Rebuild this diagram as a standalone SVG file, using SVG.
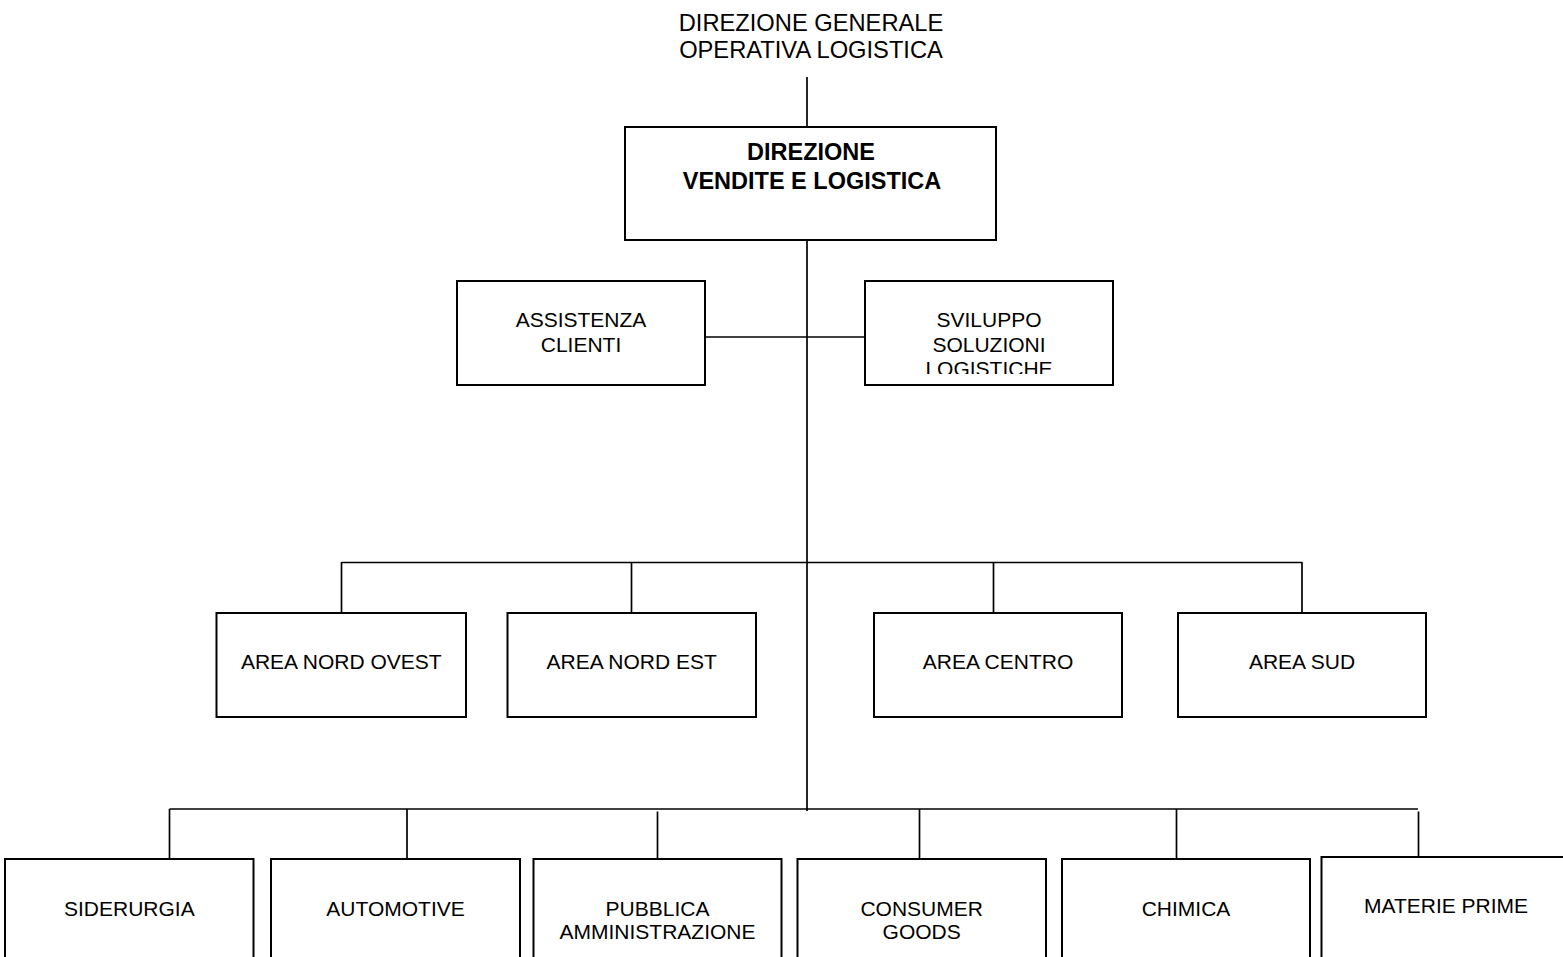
<svg xmlns="http://www.w3.org/2000/svg" width="1563" height="957" viewBox="0 0 1563 957">
<style>
.box{fill:#fff;stroke:#000;stroke-width:2}
.ln{fill:none;stroke:#000;stroke-width:1.7}
text{font-family:"Liberation Sans",Arial,sans-serif;fill:#000;text-anchor:middle}
.t{font-size:21px}
.top{font-size:23.7px}
.b{font-size:23.5px;font-weight:bold}
</style>
<defs>
<clipPath id="clipSv"><rect x="866" y="282" width="246" height="92"/></clipPath>
</defs>
<rect width="1563" height="957" fill="#fff"/>
<g id="connectors">
<line class="ln" x1="807" y1="77" x2="807" y2="127"/>
<line class="ln" x1="807" y1="240" x2="807" y2="811"/>
<line class="ln" x1="705" y1="337" x2="865" y2="337"/>
<line class="ln" x1="341.5" y1="562.5" x2="1302" y2="562.5"/>
<line class="ln" x1="341.5" y1="562" x2="341.5" y2="613"/>
<line class="ln" x1="631.5" y1="562" x2="631.5" y2="613"/>
<line class="ln" x1="993.5" y1="562" x2="993.5" y2="613"/>
<line class="ln" x1="1302" y1="562" x2="1302" y2="613"/>
<line class="ln" x1="169.5" y1="809" x2="1418" y2="809"/>
<line class="ln" x1="169.5" y1="809" x2="169.5" y2="859"/>
<line class="ln" x1="407" y1="809" x2="407" y2="859"/>
<line class="ln" x1="657.5" y1="811.5" x2="657.5" y2="859"/>
<line class="ln" x1="919.5" y1="809" x2="919.5" y2="859"/>
<line class="ln" x1="1176.5" y1="809" x2="1176.5" y2="859"/>
<line class="ln" x1="1418.5" y1="811.5" x2="1418.5" y2="857"/>
</g>
<g id="n-dgol">
<text class="top" x="811" y="31">DIREZIONE GENERALE</text>
<text class="top" x="811" y="57.5">OPERATIVA LOGISTICA</text>
</g>
<g id="n-dvl">
<rect class="box" x="625" y="127" width="371" height="113"/>
<text class="b" x="811" y="160">DIREZIONE</text>
<text class="b" x="812" y="189">VENDITE E LOGISTICA</text>
</g>
<g id="n-assistenza">
<rect class="box" x="457" y="281" width="248" height="104"/>
<text class="t" x="581" y="327">ASSISTENZA</text>
<text class="t" x="581" y="351.5">CLIENTI</text>
</g>
<g id="n-sviluppo">
<rect class="box" x="865" y="281" width="248" height="104"/>
<g clip-path="url(#clipSv)">
<text class="t" x="989" y="327">SVILUPPO</text>
<text class="t" x="989" y="351.5">SOLUZIONI</text>
<text class="t" x="989" y="376">LOGISTICHE</text>
</g>
</g>
<g id="n-nordovest">
<rect class="box" x="216.5" y="613" width="249.5" height="104"/>
<text class="t" x="341.3" y="668.5">AREA NORD OVEST</text>
</g>
<g id="n-nordest">
<rect class="box" x="507.5" y="613" width="248.5" height="104"/>
<text class="t" x="631.7" y="668.5">AREA NORD EST</text>
</g>
<g id="n-centro">
<rect class="box" x="874" y="613" width="248" height="104"/>
<text class="t" x="998" y="668.5">AREA CENTRO</text>
</g>
<g id="n-sud">
<rect class="box" x="1178" y="613" width="248" height="104"/>
<text class="t" x="1302" y="668.5">AREA SUD</text>
</g>
<g id="n-siderurgia">
<rect class="box" x="5" y="859" width="248.5" height="120"/>
<text class="t" x="129.3" y="915.5">SIDERURGIA</text>
</g>
<g id="n-automotive">
<rect class="box" x="271" y="859" width="249" height="120"/>
<text class="t" x="395.5" y="915.5">AUTOMOTIVE</text>
</g>
<g id="n-pa">
<rect class="box" x="533.5" y="859" width="248" height="120"/>
<text class="t" x="657.5" y="915.5">PUBBLICA</text>
<text class="t" x="657.5" y="939">AMMINISTRAZIONE</text>
</g>
<g id="n-consumer">
<rect class="box" x="797.5" y="859" width="248.5" height="120"/>
<text class="t" x="921.7" y="915.5">CONSUMER</text>
<text class="t" x="921.7" y="939">GOODS</text>
</g>
<g id="n-chimica">
<rect class="box" x="1062" y="859" width="248" height="120"/>
<text class="t" x="1186" y="915.5">CHIMICA</text>
</g>
<g id="n-materie">
<rect class="box" x="1321.5" y="857" width="250" height="120"/>
<text class="t" x="1446" y="913">MATERIE PRIME</text>
</g>
</svg>
